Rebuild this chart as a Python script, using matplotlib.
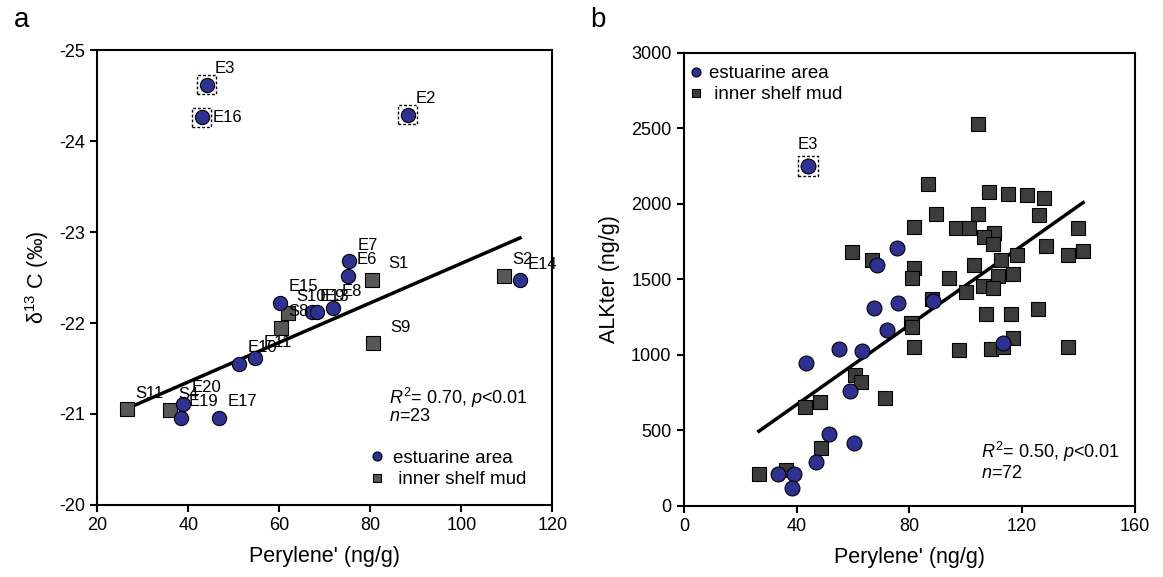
import matplotlib
matplotlib.use('Agg')
import matplotlib.pyplot as plt
from matplotlib.lines import Line2D
import numpy as np

plt.rcParams['font.family'] = ['Liberation Sans', 'DejaVu Sans']
plt.rcParams['mathtext.fontset'] = 'custom'
plt.rcParams['mathtext.rm'] = 'Liberation Sans'
plt.rcParams['mathtext.it'] = 'Liberation Sans:italic'
plt.rcParams['axes.unicode_minus'] = False

# ---------------- Panel a data ----------------
a_est_names = ['E3', 'E16', 'E2', 'E7', 'E6', 'E15', 'E13', 'E9', 'E8',
               'E11', 'E10', 'E20', 'E19', 'E17', 'E14']
a_est_x = [44.0, 42.9, 88.2, 75.4, 75.2, 60.2, 67.1, 68.2, 71.9,
           54.7, 51.2, 38.9, 38.3, 46.8, 112.9]
a_est_y = [-24.62, -24.26, -24.29, -22.68, -22.52, -22.22, -22.12, -22.12, -22.17,
           -21.61, -21.55, -21.11, -20.96, -20.96, -22.47]
a_shelf_names = ['S1', 'S2', 'S10', 'S8', 'S9', 'S11', 'S4']
a_shelf_x = [80.3, 109.4, 62.0, 60.3, 80.5, 26.5, 36.0]
a_shelf_y = [-22.47, -22.52, -22.11, -21.95, -21.78, -21.05, -21.04]
a_outliers = ['E3', 'E16', 'E2']
a_fit_slope, a_fit_intercept = -0.02171, -20.484
a_stats = r'$R^2$= 0.70, $p$<0.01'
a_n = r'$n$=23'

# ---------------- Panel b data ----------------
b_est_x = [44.1, 75.5, 68.4, 67.5, 75.8, 88.5, 72.2, 55.0, 63.1, 43.2,
           113.3, 58.9, 51.5, 60.4, 46.8, 33.5, 39.0, 38.4]
b_est_y = [2252, 1709, 1595, 1308, 1341, 1359, 1165, 1039, 1028, 948,
           1081, 763, 475, 419, 293, 212, 212, 117]
b_outlier_names = ['E3']
b_outlier_x = [44.1]
b_outlier_y = [2252]
b_shelf_x = [104.2, 86.5, 108.4, 115.1, 121.6, 127.9, 89.3, 104.5, 126.1, 81.7,
             139.9, 96.5, 101.3, 110.1, 106.6, 109.8, 59.5, 141.7, 128.4, 136.4,
             66.8, 112.4, 118.3, 81.7, 80.8, 94.0, 102.8, 111.3, 116.9, 106.0,
             100.0, 109.6, 88.1, 107.1, 116.1, 125.5, 80.6, 80.8, 81.7, 97.6,
             109.0, 116.9, 113.3, 136.2, 60.7, 62.8, 71.3, 48.3, 42.9, 48.5,
             26.6, 36.1]
b_shelf_y = [2526, 2131, 2076, 2067, 2058, 2040, 1931, 1934, 1926, 1848,
             1842, 1838, 1838, 1809, 1782, 1734, 1683, 1690, 1723, 1661,
             1628, 1628, 1661, 1577, 1511, 1507, 1595, 1524, 1535, 1458,
             1418, 1441, 1368, 1271, 1271, 1304, 1213, 1187, 1054, 1032,
             1039, 1114, 1054, 1050, 867, 823, 717, 690, 653, 382,
             210, 238]
b_fit_slope, b_fit_intercept = 13.15, 145.0
b_stats = r'$R^2$= 0.50, $p$<0.01'
b_n = r'$n$=72'

legend_labels = ['estuarine area', ' inner shelf mud']

# ---------------- style ----------------
NAVY = '#2E3190'
GRAY_A = '#585858'
GRAY_B = '#3c3c3c'
TICK_FS = 13
LABEL_FS = 15.5
PT_FS = 12
ANN_FS = 13
LEG_FS = 13.5

fig = plt.figure(figsize=(11.63, 5.77), dpi=100)
axa = fig.add_axes([0.0837, 0.1248, 0.3912, 0.7885])
axb = fig.add_axes([0.5881, 0.1231, 0.3876, 0.7856])

for ax in (axa, axb):
    for sp in ax.spines.values():
        sp.set_linewidth(1.5)
    ax.tick_params(direction='out', length=5, width=1.5, labelsize=TICK_FS, pad=4)

# ---------------- Panel a ----------------
axa.scatter(a_shelf_x, a_shelf_y, marker='s', s=100, c=GRAY_A, edgecolors='k',
            linewidths=0.8, zorder=3)
axa.scatter(a_est_x, a_est_y, marker='o', s=105, c=NAVY, edgecolors='k',
            linewidths=0.8, zorder=4)
ox = [a_est_x[a_est_names.index(n)] for n in a_outliers]
oy = [a_est_y[a_est_names.index(n)] for n in a_outliers]
axa.scatter(ox, oy, marker='s', s=200, facecolors='none', edgecolors='k',
            linewidths=1.0, linestyles=(0, (2, 1.5)), zorder=5)

fit_x_pool = [x for x, n in zip(a_est_x, a_est_names) if n not in a_outliers] + a_shelf_x
fx = np.array([min(fit_x_pool), max(fit_x_pool)])
axa.plot(fx, a_fit_slope * fx + a_fit_intercept, color='k', lw=2.5, zorder=2)

label_offsets = {'E16': (11, 0), 'S1': (17, 17), 'S9': (18, 16)}
for names, xs, ys in ((a_est_names, a_est_x, a_est_y), (a_shelf_names, a_shelf_x, a_shelf_y)):
    for n, x, y in zip(names, xs, ys):
        dx, dy = label_offsets.get(n, (8, 16))
        axa.annotate(n, (x, y), xytext=(dx, dy), textcoords='offset pixels',
                     ha='left', va='center', fontsize=PT_FS, zorder=6)

axa.set_xlim(20, 120)
axa.set_ylim(-20, -25)
axa.set_xticks(np.arange(20, 121, 20))
axa.set_yticks(np.arange(-25, -19, 1))
axa.set_xlabel("Perylene' (ng/g)", fontsize=LABEL_FS, labelpad=8)
axa.set_ylabel(r'$\mathregular{\delta^{13}}$ C (‰)', fontsize=LABEL_FS, labelpad=6)

axa.text(0.640, 0.235, a_stats, transform=axa.transAxes, fontsize=ANN_FS, va='center')
axa.text(0.640, 0.194, a_n, transform=axa.transAxes, fontsize=ANN_FS, va='center')

handles_a = [Line2D([], [], ls='none', marker='o', ms=6.5, mfc=NAVY, mec='k', mew=0.8),
             Line2D([], [], ls='none', marker='s', ms=6, mfc=GRAY_A, mec='k', mew=0.8)]
axa.legend(handles_a, legend_labels, loc='upper left', bbox_to_anchor=(0.600, 0.122),
           frameon=False, fontsize=LEG_FS, handlelength=0.7, handletextpad=0.5,
           labelspacing=0.25, borderpad=0, borderaxespad=0)

# ---------------- Panel b ----------------
axb.scatter(b_shelf_x, b_shelf_y, marker='s', s=95, c=GRAY_B, edgecolors='k',
            linewidths=0.8, zorder=3)
axb.scatter(b_est_x, b_est_y, marker='o', s=115, c=NAVY, edgecolors='k',
            linewidths=0.8, zorder=4)
axb.scatter(b_outlier_x, b_outlier_y, marker='s', s=200, facecolors='none', edgecolors='k',
            linewidths=1.0, linestyles=(0, (2, 1.5)), zorder=5)
for n, x, y in zip(b_outlier_names, b_outlier_x, b_outlier_y):
    axb.annotate(n, (x, y), xytext=(0, 21), textcoords='offset pixels',
                 ha='center', va='center', fontsize=PT_FS, zorder=6)

fit_pool_b = [x for x in b_est_x if x not in b_outlier_x] + b_shelf_x
fbx = np.array([min(fit_pool_b), max(fit_pool_b)])
axb.plot(fbx, b_fit_slope * fbx + b_fit_intercept, color='k', lw=2.5, zorder=2)

axb.set_xlim(0, 160)
axb.set_ylim(0, 3000)
axb.set_xticks(np.arange(0, 161, 40))
axb.set_yticks(np.arange(0, 3001, 500))
axb.set_xlabel("Perylene' (ng/g)", fontsize=LABEL_FS, labelpad=8)
axb.set_ylabel('ALKter (ng/g)', fontsize=LABEL_FS, labelpad=8)

axb.text(0.658, 0.120, b_stats, transform=axb.transAxes, fontsize=ANN_FS, va='center')
axb.text(0.658, 0.072, b_n, transform=axb.transAxes, fontsize=ANN_FS, va='center')

handles_b = [Line2D([], [], ls='none', marker='o', ms=6.5, mfc=NAVY, mec='k', mew=0.8),
             Line2D([], [], ls='none', marker='s', ms=6, mfc=GRAY_B, mec='k', mew=0.8)]
axb.legend(handles_b, legend_labels, loc='upper left', bbox_to_anchor=(0.012, 0.972),
           frameon=False, fontsize=LEG_FS, handlelength=0.7, handletextpad=0.35,
           labelspacing=0.2, borderpad=0, borderaxespad=0)

fig.text(14 / 1163, 1 - 20 / 577, 'a', fontsize=20, va='center', ha='left')
fig.text(590 / 1163, 1 - 20 / 577, 'b', fontsize=20, va='center', ha='left')

fig.savefig('out.png', dpi=100)
